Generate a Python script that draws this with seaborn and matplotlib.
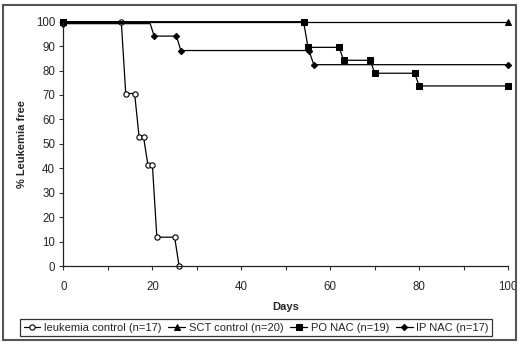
import seaborn as sns
import matplotlib.pyplot as plt
from matplotlib.patches import Rectangle

# Kaplan-Meier style leukemia-free curves
leuk_days = [0, 13, 14, 16, 17, 18, 19, 20, 21, 25, 26]
leuk_pct = [100, 100, 70.6, 70.6, 52.9, 52.9, 41.2, 41.2, 11.8, 11.8, 0]

sct_days = [0, 100]
sct_pct = [100, 100]

po_days = [0, 54, 55, 62, 63, 69, 70, 79, 80, 100]
po_pct = [100, 100, 89.5, 89.5, 84.2, 84.2, 78.9, 78.9, 73.7, 73.7]

ip_days = [0, 19.5, 20.4, 25.4, 26.4, 55.2, 56.3, 100]
ip_pct = [99.2, 99.2, 94.1, 94.1, 88.2, 88.2, 82.4, 82.4]
ip_marks = [0, 2, 3, 4, 5, 6, 7]

labels = ['leukemia control (n=17)', 'SCT control (n=20)', 'PO NAC (n=19)', 'IP NAC (n=17)']

sns.set_style("ticks")
plt.rcParams['font.family'] = ['Liberation Sans', 'DejaVu Sans']

fig = plt.figure(figsize=(5.2, 3.47), dpi=100)
ax = fig.add_axes([0.1221, 0.2334, 0.855, 0.7041])

lw = 0.9
ms = 3.8
sns.lineplot(x=leuk_days, y=leuk_pct, ax=ax, color='black', lw=lw, marker='o', ms=ms,
             mfc='white', mec='black', mew=0.8, sort=False, label=labels[0])
sns.lineplot(x=sct_days, y=sct_pct, ax=ax, color='black', lw=lw, marker='^', ms=ms + 0.6,
             mfc='black', mec='black', sort=False, label=labels[1])
sns.lineplot(x=po_days, y=po_pct, ax=ax, color='black', lw=lw, marker='s', ms=ms,
             mfc='black', mec='black', sort=False, label=labels[2])
sns.lineplot(x=ip_days, y=ip_pct, ax=ax, color='black', lw=lw, marker='D', ms=ms - 0.6,
             mfc='black', mec='black', sort=False, markevery=ip_marks, label=labels[3])

ax.set_xlim(0, 100)
ax.set_ylim(0, 100)
ax.set_xticks(range(0, 101, 10))
ax.set_xticklabels([str(v) if v % 20 == 0 else '' for v in range(0, 101, 10)])
ax.set_yticks(range(0, 101, 10))
ax.tick_params(labelsize=8.3, length=3, width=0.8, color='#333333', pad=3)
ax.xaxis.set_tick_params(pad=8)
sns.despine(ax=ax)
for s in ['left', 'bottom']:
    ax.spines[s].set_linewidth(0.9)
    ax.spines[s].set_color('#222222')
for line in ax.lines:
    line.set_clip_on(False)

ax.set_xlabel('Days', fontsize=8, fontweight='bold', labelpad=6)
ax.set_ylabel('% Leukemia free', fontsize=8, fontweight='bold', labelpad=6)

ax.get_legend().remove()
handles, _ = ax.get_legend_handles_labels()
leg = fig.legend(handles, labels, loc='center', bbox_to_anchor=(0.493, 0.056), ncol=4,
                 fontsize=8, frameon=True, fancybox=False, edgecolor='black',
                 handlelength=1.5, handletextpad=0.35, columnspacing=0.6,
                 borderpad=0.3, borderaxespad=0)
leg.get_frame().set_linewidth(0.9)

fig.patches.append(Rectangle((0.006, 0.02), 0.986, 0.965, transform=fig.transFigure,
                             fill=False, edgecolor='#555555', lw=1.5))

fig.savefig('out.png', dpi=100)
